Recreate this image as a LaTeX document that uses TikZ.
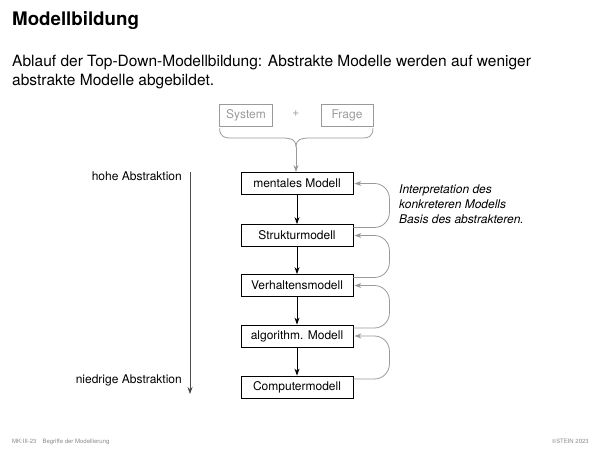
\documentclass[tikz,border=0pt]{standalone}
\usepackage{fontspec}
\setmainfont{TeX Gyre Heros}
\usetikzlibrary{arrows.meta}
\definecolor{lgray}{HTML}{9A9A9A}
\definecolor{fgray}{HTML}{8A8A8A}
\tikzset{
  model/.style={draw=black, line width=0.8pt, minimum width=112pt, minimum height=22pt, inner sep=0pt, font=\fontsize{12}{14}\selectfont},
  given/.style={draw=lgray, line width=0.8pt, text=lgray, minimum height=22pt, inner sep=0pt, font=\fontsize{12}{14}\selectfont},
  down/.style={line width=0.8pt, -{Stealth[length=7pt,width=5pt]}},
  back/.style={draw=lgray, line width=0.8pt, rounded corners=15pt, -{Stealth[length=7pt,width=5pt]}},
  lab/.style={font=\fontsize{12}{14}\selectfont, inner sep=0pt},
  subt/.style={anchor=base west, inner sep=0pt, font=\fontsize{15.5}{18}\selectfont},
}
\begin{document}
\begin{tikzpicture}[x=1pt,y=-1pt]
\useasboundingbox (0,0) rectangle (600,450);
\node[anchor=base west, inner sep=0pt, font=\fontsize{18.7}{20}\selectfont\bfseries] (title) at (12,25) {Modellbildung};
\node[subt] (sub1) at (12,66) {Ablauf der Top-Down-Modellbildung: Abstrakte Modelle werden auf weniger};
\node[subt] (sub2) at (12,85) {abstrakte Modelle abgebildet.};

\node[given, minimum width=53pt] (sys) at (246,115) {System};
\node[lab, text=lgray] (plus) at (296,114) {+};
\node[given, minimum width=52pt] (frage) at (347,115) {Frage};

\node[model] (m1) at (297,183.5) {mentales Modell};
\node[model] (m2) at (297,235.5) {Strukturmodell};
\node[model] (m3) at (297,285.5) {Verhaltensmodell};
\node[model] (m4) at (297,336) {algorithm. Modell};
\node[model] (m5) at (297,387) {Computermodell};

\coordinate (bt) at (296,147);
\draw[lgray, line width=0.8pt] (sys.south west) ++(0.5,2) .. controls +(0,9) and +(-4,0) .. (230,138) -- (282,138) .. controls (292,138) and (296,140) .. (bt);
\draw[lgray, line width=0.8pt] (frage.south east) ++(-0.5,2) .. controls +(0,9) and +(4,0) .. (363,138) -- (310,138) .. controls (300,138) and (296,140) .. (bt);
\draw[lgray, line width=0.8pt, -{Stealth[length=7pt,width=5pt]}] (bt) -- (m1.north -| bt);

\draw[down] (m1) -- (m2);
\draw[down] (m2) -- (m3);
\draw[down] (m3) -- (m4);
\draw[down] (m4) -- (m5);

\draw[back] ([yshift=8pt]m2.east) -- ++(36,0) |- ([xshift=1pt]m1.east);
\draw[back] ([yshift=8pt]m3.east) -- ++(36,0) |- ([xshift=1pt]m2.east);
\draw[back] ([yshift=8pt]m4.east) -- ++(36,0) |- ([xshift=1pt]m3.east);
\draw[back] ([yshift=8pt]m5.east) -- ++(36,0) |- ([xshift=1pt]m4.east);

\node[lab, anchor=north west, align=left, font=\fontsize{12}{15}\selectfont\itshape] (interp) at (399,185)
  {Interpretation des\\konkreteren Modells\\Basis des abstrakteren.};

\coordinate (atop) at (190,172);
\coordinate (abot) at (190,394);
\draw[line width=0.8pt, draw=black!70, -{Stealth[length=7pt,width=5pt,fill=black]}] (atop) -- (abot);
\node[lab, anchor=east] (hoch) at (182,176) {hohe Abstraktion};
\node[lab, anchor=east] (nied) at (182,380) {niedrige Abstraktion};

\node[anchor=base west, inner sep=0pt, text=fgray, font=\fontsize{6}{7}\selectfont] (foot1) at (12,443) {MK:III-23\hspace{6pt}Begriffe der Modellierung};
\node[anchor=base east, inner sep=0pt, text=fgray, font=\fontsize{6}{7}\selectfont] (foot2) at (589,443) {\textcopyright STEIN 2023};
\end{tikzpicture}
\end{document}
